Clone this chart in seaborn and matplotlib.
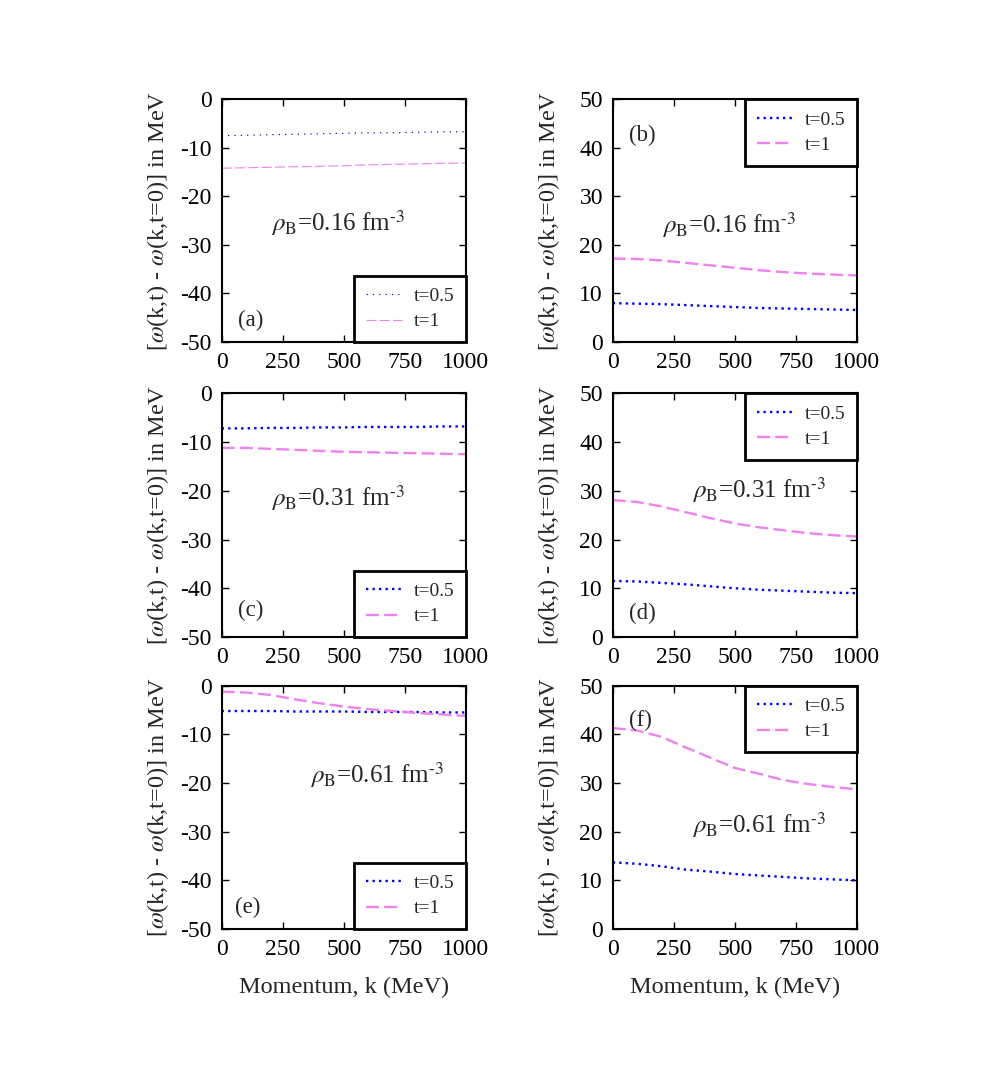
import numpy as np
import pandas as pd
import matplotlib
matplotlib.use('Agg')
import matplotlib.pyplot as plt
import seaborn as sns

# momentum grid (MeV)
k = [0, 100, 200, 300, 400, 500, 600, 700, 800, 900, 1000]

# [w(k,t) - w(k,t=0)] in MeV
a_t05 = [-7.5, -7.4, -7.3, -7.2, -7.1, -7.0, -6.9, -6.9, -6.8, -6.7, -6.7]
a_t1 = [-14.2, -14.1, -14.0, -13.9, -13.8, -13.7, -13.5, -13.4, -13.3, -13.2, -13.1]
b_t05 = [8.0, 7.9, 7.8, 7.6, 7.4, 7.2, 7.0, 6.9, 6.8, 6.7, 6.6]
b_t1 = [17.2, 17.1, 16.8, 16.3, 15.8, 15.3, 14.8, 14.4, 14.1, 13.9, 13.7]
c_t05 = [-7.2, -7.2, -7.1, -7.1, -7.0, -7.0, -6.9, -6.9, -6.9, -6.8, -6.8]
c_t1 = [-11.2, -11.2, -11.4, -11.6, -11.8, -12.0, -12.1, -12.2, -12.3, -12.4, -12.5]
d_t05 = [11.5, 11.4, 11.1, 10.8, 10.4, 10.0, 9.7, 9.5, 9.3, 9.1, 9.0]
d_t1 = [28.1, 27.7, 26.8, 25.6, 24.4, 23.3, 22.5, 21.9, 21.3, 20.9, 20.6]
e_t05 = [-5.2, -5.2, -5.2, -5.3, -5.3, -5.3, -5.4, -5.4, -5.4, -5.5, -5.5]
e_t1 = [-1.2, -1.4, -1.9, -2.8, -3.6, -4.3, -4.8, -5.2, -5.6, -5.9, -6.2]
f_t05 = [13.7, 13.4, 12.9, 12.2, 11.8, 11.3, 11.0, 10.7, 10.4, 10.2, 10.0]
f_t1 = [41.3, 40.8, 39.5, 37.3, 35.2, 33.1, 31.9, 30.6, 29.8, 29.2, 28.7]

panel_tags = ['(a)', '(b)', '(c)', '(d)', '(e)', '(f)']
densities = ['0.16', '0.16', '0.31', '0.31', '0.61', '0.61']
series_labels = ['t=0.5', 't=1']
xticks = [0, 250, 500, 750, 1000]
yticks_left = [0, -10, -20, -30, -40, -50]
yticks_right = [0, 10, 20, 30, 40, 50]

sns.set_theme(style='ticks')
plt.rcParams['font.family'] = ['Liberation Serif', 'DejaVu Serif']
plt.rcParams['mathtext.fontset'] = 'stix'
plt.rcParams['axes.unicode_minus'] = False

BLUE = '#0000ff'
PINK = '#ee82ee'

fig = plt.figure(figsize=(9.81, 10.79), dpi=100)
W, H = 981, 1079

# axes boxes in pixels: (left, top, right, bottom)
col_x = [(221.7, 465.7), (612.7, 856.7)]
row_y = [(99.3, 342.0), (393.3, 637.0), (685.7, 929.0)]

curves = [(a_t05, a_t1), (b_t05, b_t1), (c_t05, c_t1),
          (d_t05, d_t1), (e_t05, e_t1), (f_t05, f_t1)]
# text placement in data coords
dens_pos = [(202, -25.5), (201, 24.1), (202, -21.5), (324, 30.2), (362, -18.4), (324, 21.3)]
tag_pos = [(68, -45.5), (68, 42.6), (68, -44.5), (68, 4.9), (55, -45.5), (68, 42.8)]

for i in range(6):
    r, c = divmod(i, 2)
    x0, x1 = col_x[c]
    y0, y1 = row_y[r]
    ax = fig.add_axes([x0 / W, 1 - y1 / H, (x1 - x0) / W, (y1 - y0) / H])

    thin = (i == 0)
    lw = 0.8 if thin else 1.7
    t05, t1 = curves[i]
    sns.lineplot(x=k, y=t05, ax=ax, color=BLUE, lw=lw, label=series_labels[0])
    sns.lineplot(x=k, y=t1, ax=ax, color=PINK, lw=lw, label=series_labels[1])
    ax.lines[0].set_dashes((1.2, 4.5) if thin else (1, 1.75))
    ax.lines[1].set_dashes((9, 3) if thin else (5.5, 2.2))

    ax.set_xlim(0, 1000)
    if c == 0:
        ax.set_ylim(-50, 0)
        ax.set_yticks(yticks_left)
    else:
        ax.set_ylim(0, 50)
        ax.set_yticks(yticks_right)
    ax.set_xticks(xticks)
    ax.tick_params(direction='in', top=True, right=True, length=5, width=1,
                   labelsize=17, color='black', labelcolor='black')
    ax.tick_params(axis='y', pad=7)
    ax.tick_params(axis='x', pad=7)
    for s in ax.spines.values():
        s.set_linewidth(1.5)
        s.set_color('black')

    dx, dy = dens_pos[i]
    ax.text(dx, dy, r'$\rho_{\rm B}$=' + densities[i] + ' fm$^{\u20103}$',
            fontsize=18, va='center', ha='left')
    tx, ty = tag_pos[i]
    ax.text(tx, ty, panel_tags[i], fontsize=16.5, va='center', ha='left')

    leg = ax.legend(loc='lower right' if c == 0 else 'upper right',
                    borderaxespad=0, fancybox=False, framealpha=1,
                    edgecolor='black', fontsize=14, borderpad=0.6,
                    labelspacing=0.4, handlelength=1.85, handletextpad=0.6)
    leg.get_frame().set_linewidth(2.0)

    ylab = r'[$\omega$(k,t) - $\omega$(k,t=0)] in MeV'
    fig.text((x0 - 64) / W, 1 - (y0 + y1) / 2 / H, ylab, rotation=90,
             ha='center', va='center', fontsize=17.5)
    if r == 2:
        fig.text((x0 + x1) / 2 / W, 1 - 987 / H, 'Momentum, k (MeV)',
                 ha='center', va='center', fontsize=17.5)

fig.savefig('out.png', dpi=100)
